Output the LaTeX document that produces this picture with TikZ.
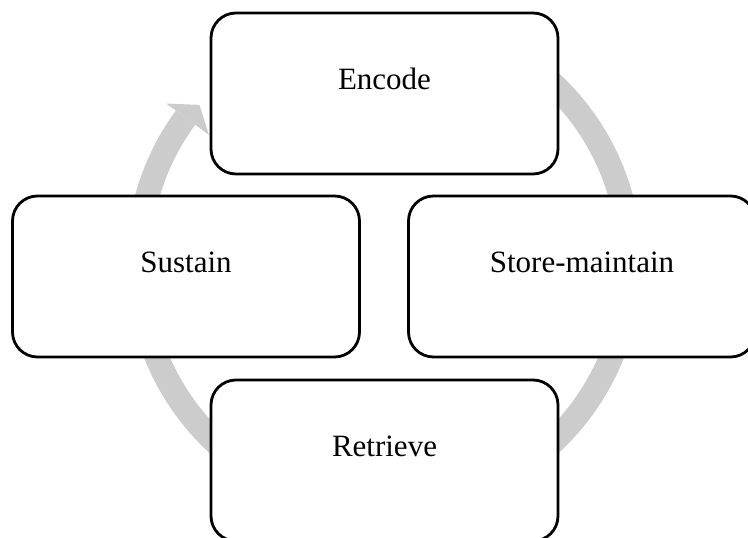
\documentclass[tikz,border=0pt]{standalone}
\usepackage{fontspec}
\setmainfont{Liberation Serif}
\usepackage{tikz}
\usetikzlibrary{positioning}
\definecolor{cyclegray}{RGB}{204, 204, 204}
\tikzset{
	stage/.style={draw=black, fill=white, line width=2.8pt, rounded corners=25pt,
		minimum width=347pt, minimum height=161pt, inner sep=0pt,
		text height=22pt, text depth=29pt,
		font=\fontsize{31}{37}\selectfont},
	cycle/.style={draw=cyclegray, line width=24pt}
}
\begin{document}
\begin{tikzpicture}[x=1pt, y=1pt]
	\useasboundingbox (0,0) rectangle (748,538);
	\coordinate (mid) at (384,275);
	% grey ring with arrow head
	\draw[cycle] ([shift={(60:246)}]mid) arc[start angle=60, end angle=-216.2, radius=246];
	\fill[cyclegray] ([shift={(143.8:270)}]mid) -- ([shift={(139.4:243)}]mid) -- ([shift={(143.8:217)}]mid) -- cycle; % tip
	% stages
	\node[stage] (encode) at (384.5,444.5) {Encode};
	\node[stage] (sustain) at (186,261.5) {Sustain};
	\node[stage] (store) at (582,261.5) {Store-maintain};
	\node[stage] (retrieve) at (384.5,77.5) {Retrieve};
\end{tikzpicture}
\end{document}
